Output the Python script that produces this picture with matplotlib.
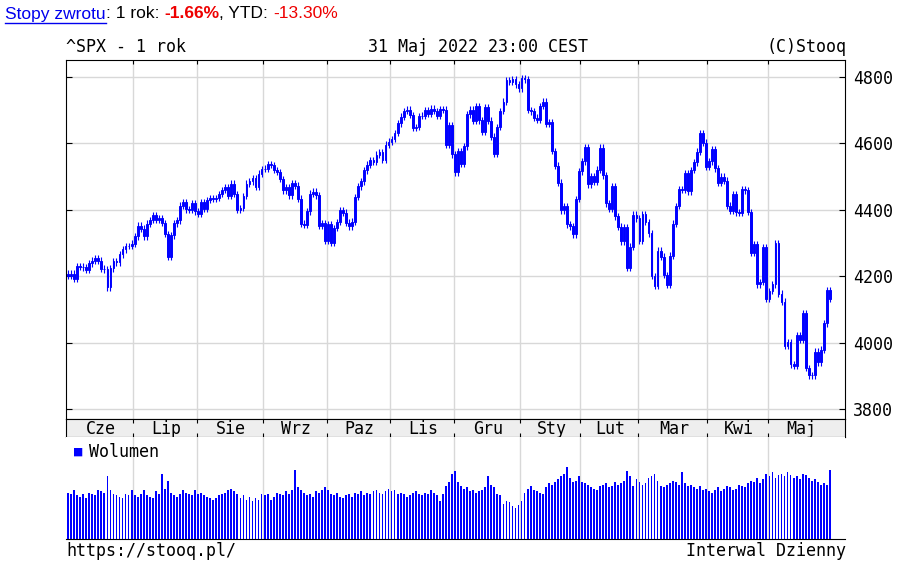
import matplotlib
matplotlib.use("Agg")
import matplotlib.pyplot as plt
import numpy as np

months = ["Cze","Lip","Sie","Wrz","Paz","Lis","Gru","Sty","Lut","Mar","Kwi","Maj"]
month_days = [22,21,22,21,21,21,22,20,19,23,20,21]
closes = [4202,4208,4192,4230,4229,4227,4219,4239,4247,4255,4247,4223,4221,4166,4224,4246,4242,4266,4281,4291,4291,4298,
 4320,4352,4343,4320,4358,4369,4384,4369,4374,4360,4327,4258,4323,4359,4368,4412,4422,4401,4400,4419,4395,
 4387,4423,4402,4429,4436,4432,4436,4447,4460,4468,4442,4479,4448,4400,4405,4442,4479,4486,4496,4470,4509,4523,
 4524,4537,4535,4520,4514,4493,4459,4469,4443,4480,4473,4433,4358,4354,4395,4449,4455,4443,4352,4359,4307,
 4357,4300,4345,4363,4399,4391,4361,4350,4364,4438,4471,4486,4519,4536,4549,4544,4566,4574,4551,4596,4605,
 4613,4631,4660,4680,4697,4701,4685,4646,4649,4682,4683,4700,4689,4704,4697,4682,4702,4701,4595,4655,4567,
 4513,4577,4538,4591,4687,4701,4667,4712,4669,4634,4710,4668,4620,4568,4649,4697,4726,4791,4786,4793,4778,4766,
 4797,4793,4700,4696,4677,4670,4713,4726,4659,4663,4577,4533,4482,4398,4410,4356,4350,4326,4432,4516,
 4546,4589,4477,4501,4484,4521,4587,4504,4419,4402,4471,4380,4349,4305,4348,4225,4289,4385,4374,
 4306,4387,4363,4329,4201,4170,4277,4259,4204,4173,4262,4358,4411,4463,4461,4511,4456,4520,4543,4575,4631,4602,4530,
 4546,4583,4525,4481,4500,4488,4412,4397,4447,4392,4391,4462,4459,4393,4271,4296,4175,4183,4288,4132,
 4155,4175,4300,4147,4123,3991,4001,3935,3930,4023,4008,4088,3924,3901,3901,3973,3941,3979,4058,4158,4132]
opens = [4208] + closes[:-1]
volumes = [3.4,3.3,3.6,3.2,3.1,3.3,3.0,3.4,3.3,3.2,3.6,3.5,3.4,4.6,3.6,3.3,3.2,3.1,3.0,3.3,3.2,3.6,
 3.2,3.1,3.3,3.6,3.2,3.1,3.0,3.5,3.3,4.8,3.7,4.3,3.4,3.2,3.1,3.3,3.6,3.4,3.3,3.2,3.6,
 3.3,3.4,3.2,3.1,3.0,2.9,3.0,3.2,3.3,3.4,3.6,3.7,3.5,3.3,3.0,3.2,2.9,3.1,2.8,3.0,2.9,3.3,
 3.2,3.3,2.9,3.1,3.4,3.3,3.2,3.5,3.3,3.6,5.1,3.8,3.6,3.4,3.2,3.3,3.1,3.5,3.4,3.6,3.8,
 3.6,3.3,3.2,3.4,3.1,3.0,3.2,3.3,3.1,3.4,3.3,3.5,3.2,3.4,3.3,3.5,3.6,3.4,3.3,3.5,3.7,
 3.5,3.6,3.3,3.4,3.3,3.1,3.2,3.4,3.5,3.3,3.2,3.4,3.3,3.6,3.4,3.2,2.8,3.3,3.9,4.2,4.8,
 5.0,4.2,3.9,3.7,3.8,3.5,3.6,3.4,3.5,3.6,3.8,4.6,4.0,3.8,3.3,3.2,2.6,2.8,2.7,2.4,2.3,2.5,
 2.8,3.4,3.7,3.9,3.6,3.5,3.4,3.3,3.8,4.1,4.0,4.2,4.4,4.6,4.8,5.3,4.5,4.2,4.3,4.6,
 4.2,4.1,4.0,3.8,3.7,3.6,3.9,4.0,4.1,3.8,3.9,4.2,4.0,4.1,4.3,5.0,4.6,3.9,4.4,
 4.2,4.0,4.1,4.5,4.6,4.8,4.3,3.9,3.8,4.0,4.1,4.3,4.2,4.0,4.9,4.1,3.9,4.0,3.8,3.7,3.9,3.6,3.7,
 3.5,3.4,3.6,3.8,3.5,3.7,3.9,3.8,3.6,3.7,4.0,3.9,3.8,4.1,4.3,4.2,4.5,4.1,4.4,4.8,
 4.6,4.9,4.5,4.7,4.8,4.6,4.9,4.7,4.5,4.6,4.4,4.8,4.7,4.5,4.3,4.4,4.2,4.0,4.1,4.0,5.1]

W, H = 897, 564
fig = plt.figure(figsize=(W/100, H/100), dpi=100)
mono = "DejaVu Sans Mono"
blue = "#0000ff"
FS = 12
n = len(closes)
x = np.arange(n)
starts = np.concatenate([[0], np.cumsum(month_days)])
xl = (-0.7, 257.0)
bounds = starts[1:-1] - 0.5

def fx(px): return px / W
def fy(py): return 1 - py / H

ax = fig.add_axes([fx(66), fy(419), fx(845-66), fy(60)-fy(419)])
o = np.array(opens, float); c = np.array(closes, float)
hi = np.maximum(o, c) + 10; lo = np.minimum(o, c) - 10
ax.vlines(x, lo, hi, color=blue, lw=0.8)
up = c >= o
ax.bar(x[up], (c-o)[up], bottom=o[up], width=0.6, facecolor="white", edgecolor=blue, lw=0.7)
ax.bar(x[~up], (c-o)[~up], bottom=o[~up], width=0.6, facecolor=blue, edgecolor=blue, lw=0.7)
ax.set_xlim(*xl); ax.set_ylim(3770, 4851)
ax.set_yticks([3800,4000,4200,4400,4600,4800])
ax.yaxis.set_ticks_position("both")
ax.tick_params(axis="y", direction="in", length=4, labelleft=False, labelright=True, labelsize=FS, pad=6)
for t in ax.get_yticklabels(): t.set_family(mono)
ax.set_xticks(bounds); ax.set_xticklabels([])
ax.tick_params(axis="x", direction="in", length=3, top=True, bottom=False)
ax.grid(True, color="#d8d8d8", lw=1)
ax.set_axisbelow(True)

axm = fig.add_axes([fx(66), fy(437), fx(845-66), fy(419)-fy(437)])
axm.set_facecolor("#eeeeee"); axm.set_xlim(*xl); axm.set_ylim(0,1)
axm.set_xticks(bounds); axm.set_xticklabels([]); axm.set_yticks([])
axm.tick_params(axis="x", direction="in", length=3, top=True, bottom=True)
for i, m in enumerate(months):
    axm.text((starts[i]+starts[i+1])/2, 0.45, m, ha="center", va="center", fontsize=FS, family=mono)

axv = fig.add_axes([fx(66), fy(539), fx(845-66), fy(437)-fy(539)])
axv.bar(x, volumes, width=0.6, color=blue)
axv.set_xlim(*xl); axv.set_ylim(0, 7.5)
axv.set_xticks(bounds); axv.set_xticklabels([]); axv.set_yticks([])
axv.tick_params(length=0)
axv.grid(True, axis="x", color="#d8d8d8", lw=1); axv.set_axisbelow(True)
for k in ("left", "right", "top"): axv.spines[k].set_visible(False)
axv.text(2.0, 6.4, "■", color=blue, fontsize=10, va="center", ha="left", family=mono)
axv.text(7.0, 6.4, "Wolumen", fontsize=FS, va="center", ha="left", family=mono)

fig.text(fx(66), fy(47), "^SPX - 1 rok", fontsize=FS, family=mono, va="center")
fig.text(fx(478), fy(47), "31 Maj 2022 23:00 CEST", fontsize=FS, family=mono, va="center", ha="center")
fig.text(fx(846), fy(47), "(C)Stooq", fontsize=FS, family=mono, va="center", ha="right")
fig.text(fx(66), fy(551), "https://stooq.pl/", fontsize=FS, family=mono, va="center")
fig.text(fx(846), fy(551), "Interwal Dzienny", fontsize=FS, family=mono, va="center", ha="right")

sans = "Liberation Sans"
parts = [("Stopy zwrotu", "#0000ee", "normal"), (": 1 rok: ", "black", "normal"), ("-1.66%", "#ee0000", "bold"),
         (", YTD: ", "black", "normal"), ("-13.30%", "#ee0000", "normal")]
fig.canvas.draw()
r = fig.canvas.get_renderer()
xp = 5
for txt, col, wt in parts:
    t = fig.text(fx(xp), fy(14), txt, color=col, fontsize=12.5, family=sans, weight=wt, va="center")
    bb = t.get_window_extent(renderer=r)
    if txt == "Stopy zwrotu":
        fig.add_artist(plt.Line2D([fx(xp), fx(xp+bb.width)], [fy(23), fy(23)], color=col, lw=1))
    xp += bb.width

fig.savefig("out.png", dpi=100)
